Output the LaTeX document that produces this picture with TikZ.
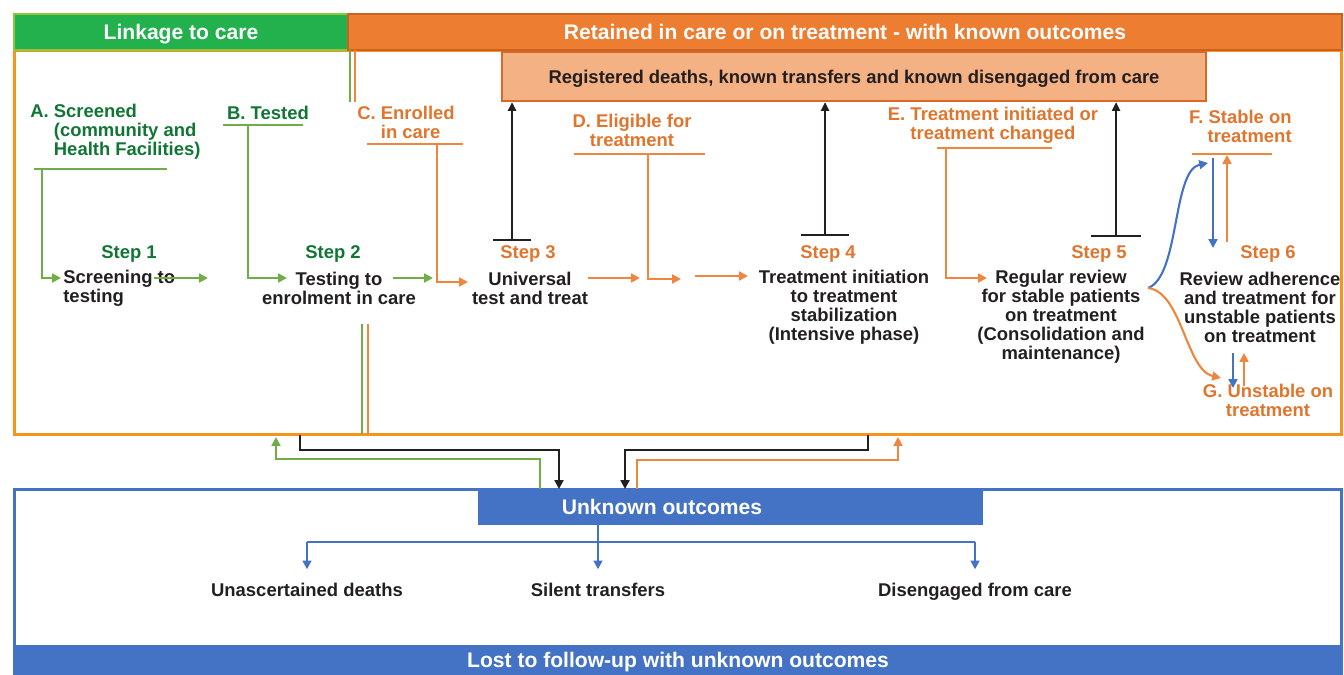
\documentclass[tikz,border=0pt]{standalone}
\usepackage{fontspec}
\setmainfont{Liberation Sans}
\usepackage{xcolor}
\usepackage{tikz}
\usetikzlibrary{arrows.meta, calc}

\definecolor{linkgreen}{RGB}{34,177,76}
\definecolor{linkedge}{RGB}{141,198,63}
\definecolor{leafgreen}{RGB}{16,118,52}
\definecolor{linegreen}{RGB}{112,173,71}
\definecolor{careorange}{RGB}{236,125,49}
\definecolor{careedge}{RGB}{204,96,30}
\definecolor{carebox}{RGB}{247,148,29}
\definecolor{ochre}{RGB}{224,117,45}
\definecolor{lineorange}{RGB}{240,133,62}
\definecolor{regfill}{RGB}{244,177,131}
\definecolor{regedge}{RGB}{214,104,40}
\definecolor{lostblue}{RGB}{68,114,196}
\definecolor{ink}{RGB}{35,31,32}

\begin{document}
\begin{tikzpicture}[
    x=0.02cm, y=-0.02cm,
    lbl/.style={font=\fontsize{10.5}{10.8}\selectfont\bfseries, inner sep=0pt, align=center, text=ink},
    glbl/.style={lbl, text=leafgreen},
    olbl/.style={lbl, text=ochre},
    hdr/.style={font=\fontsize{12}{14}\selectfont\bfseries, text=white, inner sep=0pt, text height=9pt, text depth=0pt},
    panel/.style={draw, line width=1.7pt, inner sep=0pt},
    gline/.style={draw=linegreen, line width=1.2pt},
    oline/.style={draw=lineorange, line width=1.2pt},
    bline/.style={draw=lostblue, line width=1.2pt},
    kline/.style={draw=ink, line width=1.3pt},
    garrow/.style={gline, -{Triangle[length=5pt, width=5pt]}},
    oarrow/.style={oline, -{Triangle[length=5pt, width=5pt]}},
    barrow/.style={bline, -{Triangle[length=5pt, width=5pt]}},
    kflow/.style={kline, -{Triangle[length=5pt, width=5pt]}},
    kbar/.style={kline, {Bar[width=#1]}-{Triangle[length=5pt, width=4.5pt]}}
]
\useasboundingbox (0,0) rectangle (1344,675);

% Top: retained in care panel
\node[panel, draw=carebox, minimum width=26.56cm, minimum height=7.7cm] (care) at (678,242.5) {};
\node[hdr, fill=linkgreen, draw=linkedge, line width=1pt, minimum width=6.68cm, minimum height=0.72cm] (link) at (181,32) {Linkage to care};
\node[hdr, fill=careorange, draw=careedge, line width=1pt, minimum width=19.88cm, minimum height=0.72cm] (retained) at (845,32) {Retained in care or on treatment - with known outcomes};
\node[lbl, fill=regfill, draw=regedge, line width=1.2pt, minimum width=14.08cm, minimum height=0.98cm, text height=8pt, text depth=0pt] (known) at (854,76.5) {Registered deaths, known transfers and known disengaged from care};

% Bottom: lost to follow-up panel
\node[panel, draw=lostblue, minimum width=26.56cm, minimum height=3.72cm] (lostpanel) at (678,582) {};
\node[hdr, fill=lostblue, minimum width=26.62cm, minimum height=0.6cm] (lost) at (678,660) {Lost to follow-up with unknown outcomes};
\node[fill=lostblue, minimum width=10.1cm, minimum height=0.72cm, inner sep=0pt] (unkbox) at (730.5,507) {};
\node[hdr] (unknown) at (662,507) {Unknown outcomes};

% Milestones A to G
\node[glbl, align=left, anchor=west] (mA) at (30,132) {A.~Screened\\\hphantom{A.~}(community and\\\hphantom{A.~}Health Facilities)};
\node[glbl] (mB) at (268,113) {B. Tested};
\node[olbl, align=left, anchor=west] (mC) at (357,122.5) {C.~Enrolled\\\hphantom{C.~}in care};
\node[olbl] (mD) at (632,130.5) {D. Eligible for\\treatment};
\node[olbl] (mE) at (993,125.5) {E. Treatment initiated or\\treatment changed};
\node[olbl, align=right, anchor=east] (mF) at (1292,126) {F. Stable on\\treatment};
\node[olbl] (mG) at (1268,400) {G. Unstable on\\treatment};

% Steps 1 to 6
\node[glbl] (s1) at (129,254) {Step 1};
\node[glbl] (s2) at (333,254) {Step 2};
\node[olbl] (s3) at (528,254) {Step 3};
\node[olbl] (s4) at (828,254) {Step 4};
\node[olbl] (s5) at (1099,254) {Step 5};
\node[olbl] (s6) at (1268,254) {Step 6};
\node[lbl, align=left, anchor=west] (p1) at (63,288.5) {Screening to\\testing};
\node[lbl] (p2) at (339,288.5) {Testing to\\enrolment in care};
\node[lbl] (p3) at (530,288.5) {Universal\\test and treat};
\node[lbl] (p4) at (844,307) {Treatment initiation\\to treatment\\stabilization\\(Intensive phase)};
\node[lbl] (p5) at (1061,316.5) {Regular review\\for stable patients\\on treatment\\(Consolidation and\\maintenance)};
\node[lbl] (p6) at (1260,307) {Review adherence\\and treatment for\\unstable patients\\on treatment};

% Unknown outcomes
\node[lbl, text height=8pt, text depth=0pt] (udeath) at (307,589) {Unascertained deaths};
\node[lbl, text height=8pt, text depth=0pt] (silent) at (598,589) {Silent transfers};
\node[lbl, text height=8pt, text depth=0pt] (diseng) at (975,589) {Disengaged from care};

% Underlines
\draw[gline] (34,169) -- (167,169);
\draw[gline] (223,125) -- (303,125);
\draw[oline] (367,144) -- (463,144);
\draw[oline] (574,154) -- (705,154);
\draw[oline] (937,148) -- (1052,148);
\draw[oline] (1192,154) -- (1272,154);

% Milestone to step
\coordinate (dA) at (42,169);  \coordinate (eA) at (61,278);
\coordinate (dB) at (248,125); \coordinate (eB) at (287,278);
\coordinate (dC) at (437,144); \coordinate (eC) at (468,282);
\coordinate (dD) at (648,154); \coordinate (eD) at (681,279);
\coordinate (dE) at (946,148); \coordinate (eE) at (987,278);
\draw[garrow] (dA) |- (eA);
\draw[garrow] (dB) |- (eB);
\draw[oarrow] (dC) |- (eC);
\draw[oarrow] (dD) |- (eD);
\draw[oarrow] (dE) |- (eE);

% Step to step
\coordinate (r1) at (154,278);
\coordinate (r2) at (393,278);
\coordinate (r3) at (588,278);
\coordinate (r4) at (695,276);
\draw[garrow] (r1) -- ++(54,0);
\draw[garrow] (r2) -- ++(40,0);
\draw[oarrow] (r3) -- ++(52,0);
\draw[oarrow] (r4) -- ++(53,0);

% Linkage lines
\draw[gline] (350,50) -- (350,102);
\draw[oline] (355,50) -- (355,102);
\draw[gline] (362,324) -- (362,434);
\draw[oline] (368,324) -- (368,434);

% Known outcomes
\coordinate (t3) at (512,241);
\coordinate (t4) at (825,236);
\coordinate (t5) at (1116,237);
\draw[kbar=22pt] (t3) -- (t3 |- known.south);
\draw[kbar=27pt] (t4) -- (t4 |- known.south);
\draw[kbar=29pt] (t5) -- (t5 |- known.south);

% Stable / unstable
\coordinate (c5) at (1148,288);
\coordinate (fin) at (1208,163);
\coordinate (gin) at (1221,378);
\draw[barrow] (c5) .. controls (1180,276) and (1172,170) .. (fin);
\draw[oarrow] (c5) .. controls (1182,292) and (1186,370) .. (gin);
\coordinate (fdown) at (1213,158); \coordinate (fup) at (1227,242);
\coordinate (gdown) at (1233,353); \coordinate (gup) at (1244,386);
\draw[barrow] (fdown) -- ++(0,90);
\draw[oarrow] (fup) -- ++(0,-87);
\draw[barrow] (gdown) -- ++(0,35);
\draw[oarrow] (gup) -- ++(0,-33);

% Between panels
\coordinate (gback) at (540,489); \coordinate (gback2) at (276,437);
\coordinate (kout1) at (300,435); \coordinate (kin1) at (559,489);
\coordinate (kout2) at (868,435); \coordinate (kin2) at (625,489);
\coordinate (oback) at (637,489); \coordinate (oback2) at (898,437);
\draw[garrow] (gback) -- ++(0,-30) -| (gback2);
\draw[kflow] (kout1) -- ++(0,15) -| (kin1);
\draw[kflow] (kout2) -- ++(0,15) -| (kin2);
\draw[oarrow] (oback) -- ++(0,-29) -| (oback2);

% Unknown outcome branches
\coordinate (split) at (598,542);
\draw[bline] (unkbox.south -| split) -- (split);
\draw[bline] (udeath |- split) -- (diseng |- split);
\foreach \n in {udeath, silent, diseng}
    \draw[barrow, shorten >=7pt] (\n |- split) -- (\n.north);

\end{tikzpicture}
\end{document}
